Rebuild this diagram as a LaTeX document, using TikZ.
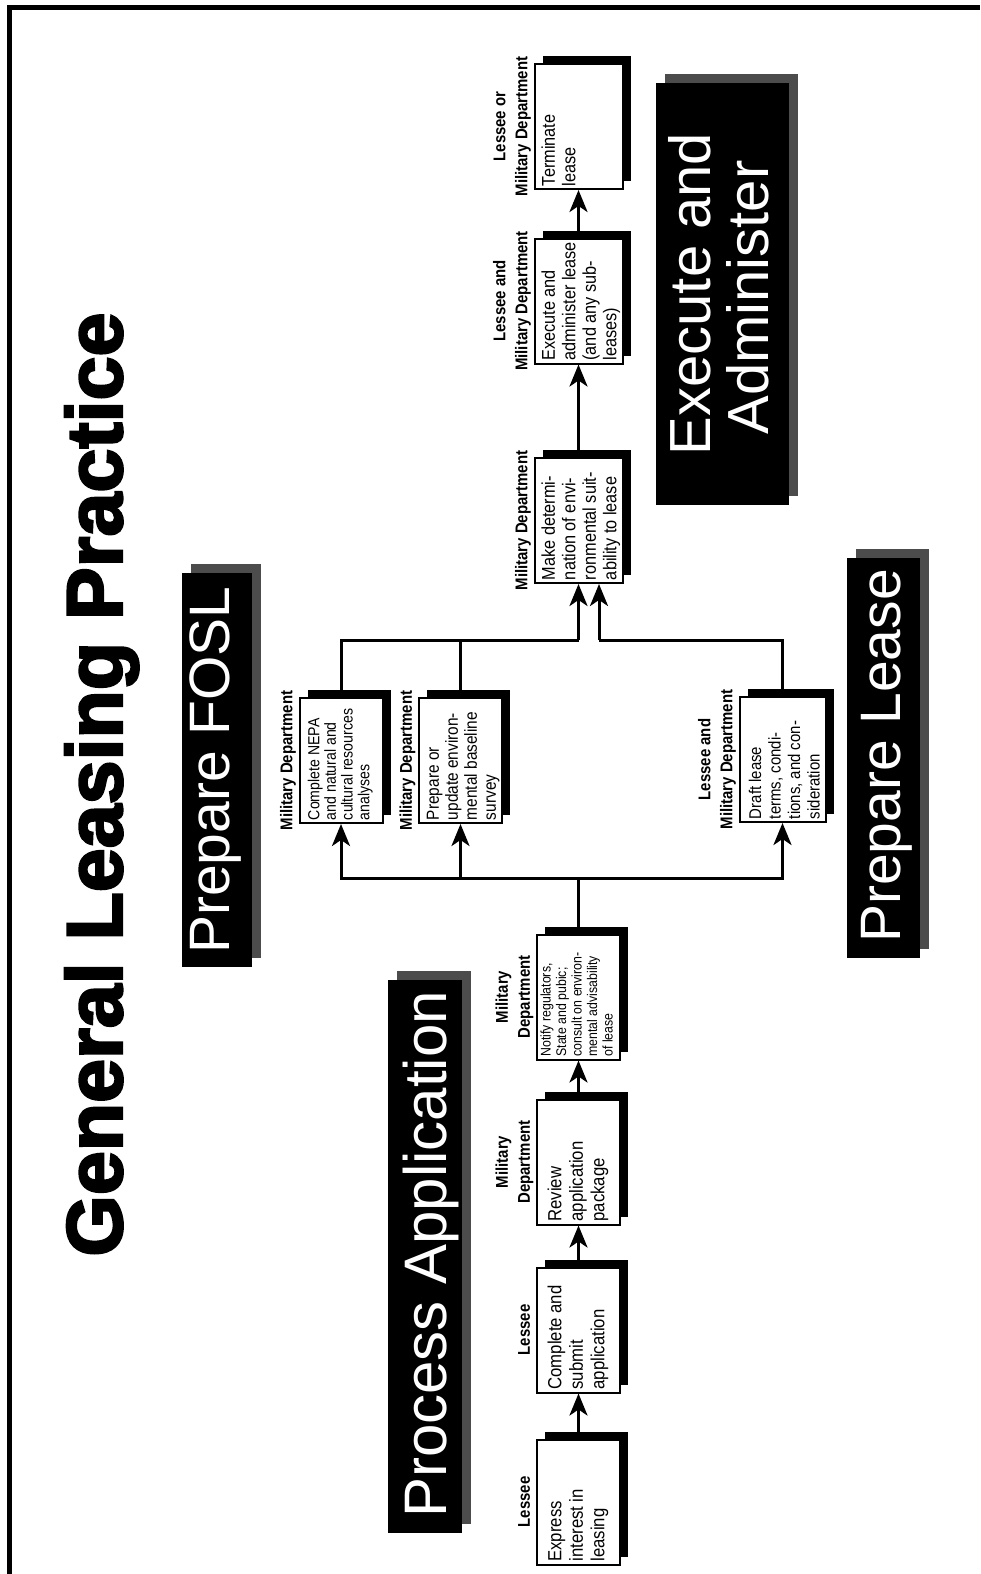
\documentclass[tikz,border=0pt]{standalone}
\usepackage{fontspec}
\setmainfont{Liberation Sans}
\newfontfamily\lblfont{Liberation Sans}[FakeStretch=0.88]
\newfontfamily\boxfont{Liberation Sans}[FakeStretch=0.88]
\newfontfamily\heavyfont{Liberation Sans}[BoldFeatures={FakeBold=3}]
\usetikzlibrary{arrows.meta,shadows}
\newcommand\bt[4][0pt]{\hspace{#1}\rotatebox{90}{\boxfont\fontsize{#2}{#3}\selectfont\makebox[119pt][l]{\begin{tabular}{@{}l@{}}#4\end{tabular}}}}
\begin{document}
\begin{tikzpicture}[x=1pt,y=-1pt,
  flow/.style={draw=black, line width=2pt, fill=white, minimum width=83pt, minimum height=125pt, inner sep=0pt,
    drop shadow={shadow xshift=8pt, shadow yshift=8pt, fill=black, opacity=1}},
  lbl/.style={rotate=90, anchor=south, inner sep=0pt, align=center, text depth=4pt,
    font=\lblfont\bfseries\fontsize{17}{22}\selectfont},
  band/.style={fill=black, inner sep=0pt,
    drop shadow={shadow xshift=9pt, shadow yshift=9pt, fill=black!70, opacity=1}},
  bandtxt/.style={rotate=90, anchor=base, inner sep=0pt, text=white},
  conn/.style={line width=3pt},
  arr/.style={conn, -{Stealth[length=22pt,width=18pt,inset=6pt]}}
]
\useasboundingbox (0,0) rectangle (980,1574);
\fill[white] (0,0) rectangle (980,1574);
% frame
\draw[line width=5pt] (9.8,1574) -- (9.8,7) -- (980,7);

% title
\node[rotate=90, anchor=base, inner sep=0pt, font=\heavyfont\bfseries\fontsize{79}{79}\selectfont] (title) at (122,784.5) {General Leasing Practice};

% section bands
\node[band, minimum width=74pt, minimum height=553pt] (procapp) at (425,1256.5) {};
\node[bandtxt, font=\fontsize{60}{60}\selectfont] (procappT) at (446,1254.5) {Process Application};
\node[band, minimum width=70pt, minimum height=394pt] (fosl) at (217,769.5) {};
\node[bandtxt, font=\fontsize{57}{57}\selectfont] (foslT) at (229,770) {Prepare FOSL};
\node[band, minimum width=73pt, minimum height=400pt] (plea) at (883.5,758) {};
\node[bandtxt, font=\fontsize{57}{57}\selectfont] (pleaT) at (900,756) {Prepare Lease};
\node[band, minimum width=133pt, minimum height=422pt] (exad) at (722.5,294) {};
\node[bandtxt, font=\fontsize{58}{58}\selectfont] (exadA) at (710,294) {Execute and};
\node[bandtxt, font=\fontsize{58}{58}\selectfont] (exadB) at (768,297.5) {Administer};

% flow boxes
\node[flow] (express) at (578.5,1502) {\bt{19}{21.5}{Express\\interest in\\leasing}};
\node[flow] (complete) at (578.5,1330) {\bt{19}{21.5}{Complete and\\submit\\application}};
\node[flow] (review) at (578.5,1162) {\bt{19}{21.5}{Review\\application\\package}};
\node[flow] (notify) at (578.5,997) {\bt{14}{15.5}{Notify regulators,\\State and pubic;\\consult on environ-\\mental advisability\\of lease}};
\node[flow] (nepa) at (341,760.5) {\bt{16}{16.7}{Complete NEPA\\and natural and\\cultural resources\\analyses}};
\node[flow] (survey) at (460.5,760.5) {\bt[6pt]{17.5}{19}{Prepare or\\update environ-\\mental baseline\\survey}};
\node[flow] (draft) at (782.5,759.5) {\bt[8pt]{17}{19.5}{Draft lease\\terms, condi-\\tions, and con-\\sideration}};
\node[flow] (make) at (578.5,520.5) {\bt[6pt]{18.5}{20.5}{Make determi-\\nation of envi-\\ronmental suit-\\ability to lease}};
\node[flow] (execute) at (578.5,301) {\bt[6pt]{18.5}{20.5}{Execute and\\administer lease\\(and any sub-\\leases)}};
\node[flow] (terminate) at (578.5,126.5) {\bt[6pt]{18.5}{20.5}{Terminate\\lease\\~\\~}};

% role labels
\node[lbl] (expressL) at ([xshift=-2pt]express.west) {Lessee};
\node[lbl] (completeL) at ([xshift=-2pt]complete.west) {Lessee};
\node[lbl] (reviewL) at ([xshift=-2pt]review.west) {Military\\Department};
\node[lbl] (notifyL) at ([xshift=-2pt]notify.west) {Military\\Department};
\node[lbl] (nepaL) at ([xshift=-2pt]nepa.west) {Military Department};
\node[lbl] (surveyL) at ([xshift=-2pt]survey.west) {Military Department};
\node[lbl] (draftL) at ([xshift=-2pt]draft.west) {Lessee and\\Military Department};
\node[lbl] (makeL) at ([xshift=-2pt]make.west) {Military Department};
\node[lbl] (executeL) at ([xshift=-2pt]execute.west) {Lessee and\\Military Department};
\node[lbl] (terminateL) at ([xshift=-2pt]terminate.west) {Lessee or\\Military Department};

% junctions
\coordinate (jb) at (578.5,878);
\coordinate (jt) at (578.5,640);
\coordinate (jr) at (599,640);

% connectors
\draw[arr] (express.north) -- (complete.south);
\draw[arr] (complete.north) -- (review.south);
\draw[arr] (review.north) -- (notify.south);
\draw[conn] (notify.north) -- (jb);
\draw[arr] (jb) -| (nepa.south);
\draw[arr] (jb) -| (survey.south);
\draw[arr] (jb) -| (draft.south);
\draw[conn] (nepa.north) |- (jt);
\draw[conn] (survey.north) -- (survey.north |- jt);
\draw[arr] (jt) -- (make.south);
\draw[conn] (draft.north) |- (jr);
\draw[arr] (jr) -- (make.south -| jr);
\draw[arr] (make.north) -- (execute.south);
\draw[arr] (execute.north) -- (terminate.south);
\end{tikzpicture}
\end{document}
